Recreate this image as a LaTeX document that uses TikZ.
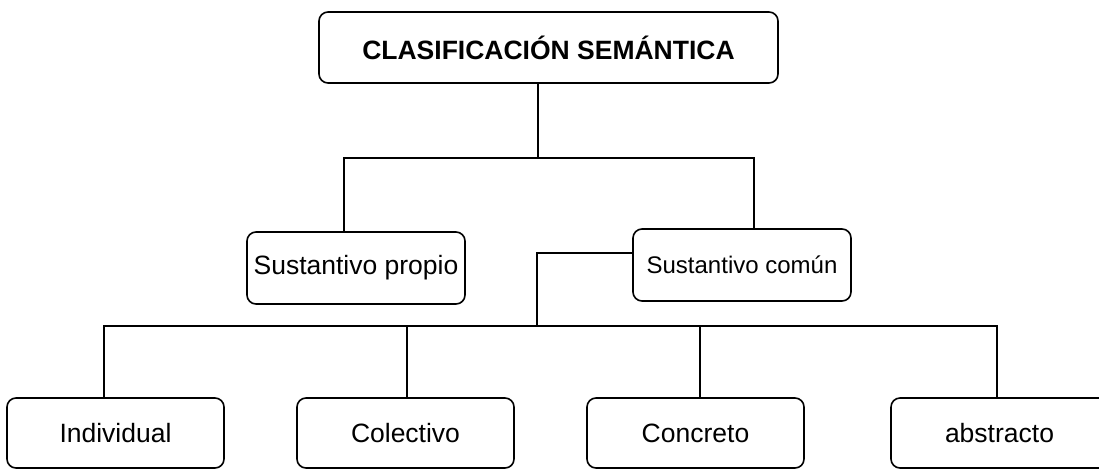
\documentclass[tikz,border=0pt]{standalone}
\usepackage{fontspec}
\setmainfont{Liberation Sans}
\begin{document}
\begin{tikzpicture}[x=1pt,y=-1pt,
  box/.style={draw, rounded corners=9pt, line width=1.6pt, inner sep=0pt, align=center},
  conn/.style={line width=1.6pt},
  big/.style={font=\fontsize{26.5}{30}\selectfont},
  mid/.style={font=\fontsize{24}{28}\selectfont}]
\useasboundingbox (0,0) rectangle (1099,469);
% nodes
\node[box, minimum width=459pt, minimum height=71pt, font=\fontsize{26.5}{30}\selectfont\bfseries] (title) at (548.5,47.5) {CLASIFICACIÓN SEMÁNTICA};
\node[box, big, minimum width=218pt, minimum height=72pt] (sp) at (356,268) {Sustantivo propio};
\node[box, mid, minimum width=218pt, minimum height=72pt] (sc) at (742,265) {Sustantivo común};
\node[box, big, minimum width=217pt, minimum height=70pt] (ind) at (115.5,433) {Individual};
\node[box, big, minimum width=217pt, minimum height=70pt] (col) at (405.5,433) {Colectivo};
\node[box, big, minimum width=217pt, minimum height=70pt] (con) at (695.5,433) {Concreto};
\node[box, big, minimum width=217pt, minimum height=70pt] (abs) at (999.5,433) {abstracto};
% junctions
\coordinate (j1) at (538,158);
\coordinate (jl) at (344,158);
\coordinate (jr) at (754,158);
\coordinate (k) at (537,326);
\coordinate (b1) at (104,326);
\coordinate (b2) at (407,326);
\coordinate (b3) at (700,326);
\coordinate (b4) at (997,326);
% connectors
\draw[conn] (title.south -| j1) -- (j1);
\draw[conn] (jl |- sp.north) -- (jl) -- (jr) -- (jr |- sc.north);
\draw[conn] (sc.west |- 0,253) -- (k |- 0,253) -- (k);
\draw[conn] (b1 |- ind.north) -- (b1) -- (b4) -- (b4 |- abs.north);
\draw[conn] (b2) -- (b2 |- col.north);
\draw[conn] (b3) -- (b3 |- con.north);
\end{tikzpicture}
\end{document}
